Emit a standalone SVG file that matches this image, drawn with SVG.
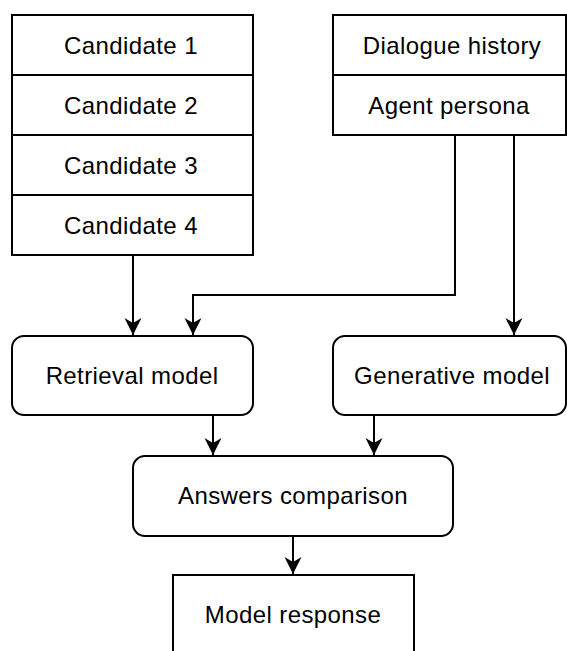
<svg xmlns="http://www.w3.org/2000/svg" width="567" height="651" viewBox="0 0 567 651">
<defs>
<style>
.box{fill:#fff;stroke:#000;stroke-width:2}
.ln{fill:none;stroke:#000;stroke-width:2}
.t{font-family:"Liberation Sans",Arial,Helvetica,sans-serif;font-size:24px;letter-spacing:0.4px;fill:#000;text-anchor:middle;dominant-baseline:central}
</style>
<marker id="arr" markerUnits="userSpaceOnUse" markerWidth="18" markerHeight="18" viewBox="0 0 18 18" refX="17" refY="9" orient="auto">
<path d="M0,0.5 L17,9 L0,17.5 L5,9 Z" fill="#000"/>
</marker>
</defs>
<rect width="567" height="651" fill="#fff"/>
<g id="candidates">
<rect class="box" x="12" y="15" width="241" height="240"/>
<line class="ln" x1="12" y1="75" x2="253" y2="75"/>
<line class="ln" x1="12" y1="135" x2="253" y2="135"/>
<line class="ln" x1="12" y1="195" x2="253" y2="195"/>
<text class="t" x="131" y="45">Candidate 1</text>
<text class="t" x="131" y="105">Candidate 2</text>
<text class="t" x="131" y="165">Candidate 3</text>
<text class="t" x="131" y="225">Candidate 4</text>
</g>
<g id="context">
<rect class="box" x="333" y="15" width="233" height="120"/>
<line class="ln" x1="333" y1="75" x2="566" y2="75"/>
<text class="t" x="452" y="45">Dialogue history</text>
<text class="t" x="449" y="105">Agent persona</text>
</g>
<g id="retrieval">
<rect class="box" x="12" y="336" width="241" height="79" rx="12" ry="12"/>
<text class="t" x="132" y="375">Retrieval model</text>
</g>
<g id="generative">
<rect class="box" x="333" y="336" width="233" height="79" rx="12" ry="12"/>
<text class="t" x="452" y="375">Generative model</text>
</g>
<g id="comparison">
<rect class="box" x="133" y="456" width="320" height="80" rx="12" ry="12"/>
<text class="t" x="293" y="495">Answers comparison</text>
</g>
<g id="response">
<rect class="box" x="173" y="575" width="241" height="85"/>
<text class="t" x="293" y="614">Model response</text>
</g>
<g id="connectors">
<path class="ln" d="M133,255 V335" marker-end="url(#arr)"/>
<path class="ln" d="M455,135 V295 H193 V335" marker-end="url(#arr)"/>
<path class="ln" d="M514,135 V335" marker-end="url(#arr)"/>
<path class="ln" d="M213,415 V455" marker-end="url(#arr)"/>
<path class="ln" d="M374,415 V455" marker-end="url(#arr)"/>
<path class="ln" d="M293,536 V574" marker-end="url(#arr)"/>
</g>
</svg>
